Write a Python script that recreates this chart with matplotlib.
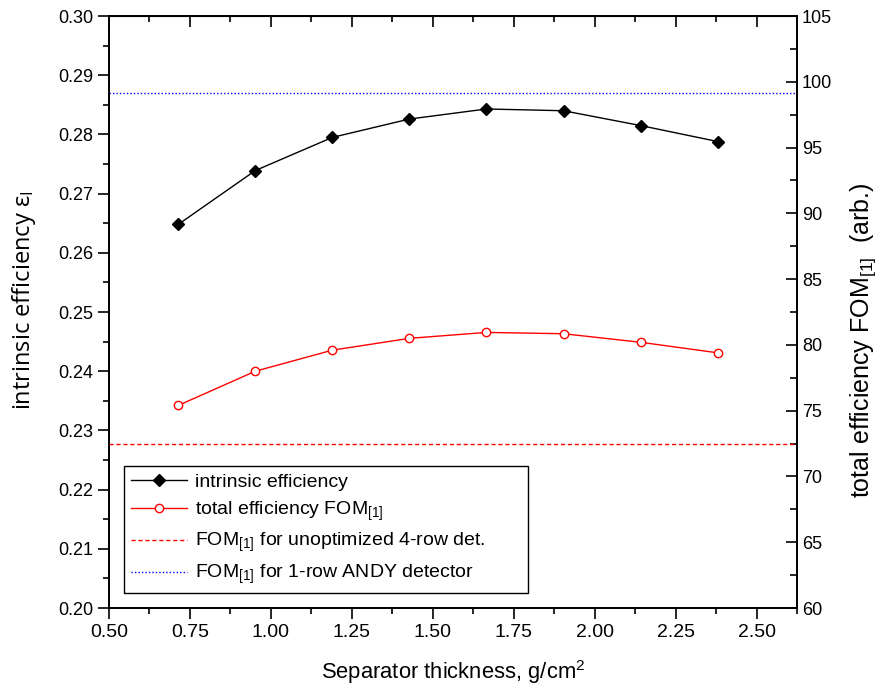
import numpy as np
import matplotlib
matplotlib.use("Agg")
import matplotlib.pyplot as plt
from matplotlib.ticker import MultipleLocator, FormatStrFormatter

plt.rcParams["font.family"] = ["Liberation Sans", "DejaVu Sans"]
plt.rcParams["mathtext.default"] = "regular"

# data
thickness = [0.714, 0.952, 1.190, 1.428, 1.666, 1.904, 2.142, 2.380]
intrinsic_eff = [0.2648, 0.2739, 0.2795, 0.2826, 0.2843, 0.2840, 0.2815, 0.2788]
total_fom = [75.4, 78.0, 79.6, 80.5, 80.95, 80.85, 80.2, 79.4]
fom_unoptimized = 72.45
fom_andy = 99.15

fig = plt.figure(figsize=(8.83, 6.91), dpi=100)
ax = fig.add_axes([0.1234, 0.1201, 0.7792, 0.8567])
ax2 = ax.twinx()

ax.plot(thickness, intrinsic_eff, color="black", lw=1, marker="D", ms=6,
        mfc="black", mec="black", label="intrinsic efficiency")
ax2.plot(thickness, total_fom, color="red", lw=1, marker="o", ms=6,
         mfc="white", mec="red", label="total efficiency FOM$_{[1]}$")
ax2.axhline(fom_unoptimized, color="red", lw=1, ls=(0, (3, 2)),
            label="FOM$_{[1]}$ for unoptimized 4-row det.")
ax2.axhline(fom_andy, color="blue", lw=1, ls=(0, (1, 1.5)),
            label="FOM$_{[1]}$ for 1-row ANDY detector")

ax.set_xlim(0.5, 2.625)
ax.set_ylim(0.20, 0.30)
ax2.set_ylim(60, 105)

ax.xaxis.set_major_locator(MultipleLocator(0.25))
ax.xaxis.set_minor_locator(MultipleLocator(0.125))
ax.yaxis.set_major_locator(MultipleLocator(0.01))
ax.yaxis.set_minor_locator(MultipleLocator(0.005))
ax2.yaxis.set_major_locator(MultipleLocator(5))
ax2.yaxis.set_minor_locator(MultipleLocator(2.5))
ax.xaxis.set_major_formatter(FormatStrFormatter("%.2f"))
ax.yaxis.set_major_formatter(FormatStrFormatter("%.2f"))

ax.tick_params(axis="x", which="both", direction="out", top=False, labelsize=14, width=1.2)
ax.tick_params(axis="x", which="major", length=8)
ax.tick_params(axis="x", which="minor", length=4)
ax.tick_params(axis="y", which="both", direction="out", labelsize=13, width=1.2)
ax.tick_params(axis="y", which="major", length=8)
ax.tick_params(axis="y", which="minor", length=4)
ax2.tick_params(axis="y", which="both", direction="in", labelsize=13, width=1.2)
ax2.tick_params(axis="y", which="major", length=8)
ax2.tick_params(axis="y", which="minor", length=5)

# top axis ticks point inward
top = ax.secondary_xaxis("top")
top.set_xticks(np.arange(0.5, 2.626, 0.25))
top.xaxis.set_minor_locator(MultipleLocator(0.125))
top.tick_params(which="both", direction="in", labeltop=False, width=1.2)
top.tick_params(which="major", length=8)
top.tick_params(which="minor", length=4)

for a in (ax, ax2):
    for s in a.spines.values():
        s.set_linewidth(1.3)

ax.set_xlabel("Separator thickness, g/cm$^2$", fontsize=15.8, labelpad=12)
ax.set_ylabel("intrinsic efficiency ε$_I$", fontsize=17, fontfamily="Open Sans")
ax.yaxis.set_label_coords(-0.103, 0.52)
ax2.set_ylabel("total efficiency FOM$_{[1]}$  (arb.)", fontsize=18)
ax2.yaxis.set_label_coords(1.075, 0.453)

h1, l1 = ax.get_legend_handles_labels()
h2, l2 = ax2.get_legend_handles_labels()
leg = ax2.legend(h1 + h2, l1 + l2, loc="lower left",
                 bbox_to_anchor=(0.022, 0.025, 0.587, 0.2), mode="expand",
                 borderaxespad=0, fontsize=14, frameon=True, fancybox=False,
                 edgecolor="black", framealpha=1, handlelength=2.9, handletextpad=0.4,
                 borderpad=0.35, labelspacing=0.45)
leg.get_frame().set_linewidth(1)

fig.savefig("out.png", dpi=100)
